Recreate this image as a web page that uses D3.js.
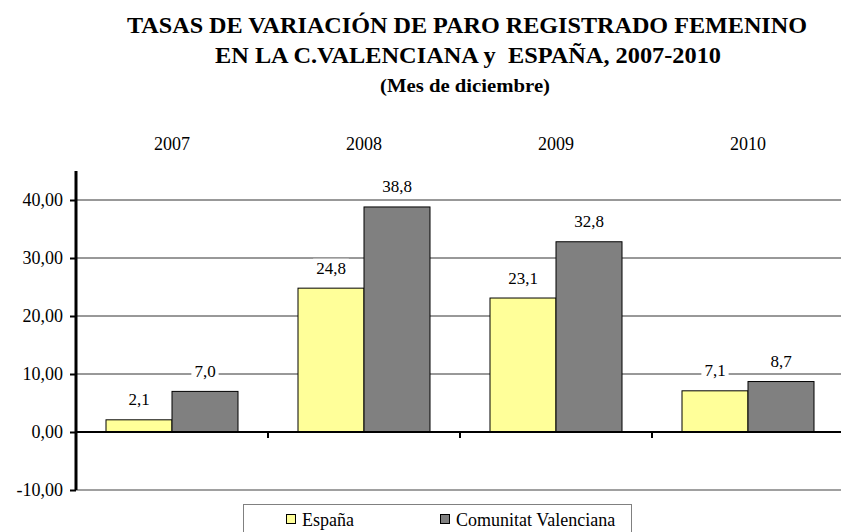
<!DOCTYPE html>
<html>
<head>
<meta charset="utf-8">
<script src="https://cdn.jsdelivr.net/npm/d3@7"></script>
<style>
  body { margin: 0; background: #fff; }
</style>
</head>
<body>
<svg id="chart" width="841" height="532"></svg>
<script>
// data
const years = ["2007", "2008", "2009", "2010"];
const espana = [2.1, 24.8, 23.1, 7.1];
const valencia = [7.0, 38.8, 32.8, 8.7];
const seriesNames = ["España", "Comunitat Valenciana"];
const seriesColors = ["#FFFF99", "#808080"];
const yTicks = [-10, 0, 10, 20, 30, 40];

const FONT = "'Liberation Serif', 'Times New Roman', serif";
const svg = d3.select("#chart");
const fmt = v => v.toFixed(1).replace(".", ",");
const fmtTick = v => v.toFixed(2).replace(".", ",");

// titles (condensed bold serif like the original)
const titles = [
  { t: "TASAS DE VARIACIÓN DE PARO REGISTRADO FEMENINO", x: 467, y: 33, size: 24, w: 680 },
  { t: "EN LA C.VALENCIANA y  ESPAÑA, 2007-2010", x: 468, y: 63, size: 24, w: 506 },
  { t: "(Mes de diciembre)", x: 465, y: 92, size: 19, w: 170 }
];
svg.selectAll("text.title").data(titles).enter().append("text")
  .attr("class", "title")
  .attr("x", d => d.x).attr("y", d => d.y)
  .attr("text-anchor", "middle")
  .attr("font-weight", "bold")
  .attr("font-size", d => d.size)
  .attr("textLength", d => d.w)
  .attr("lengthAdjust", "spacingAndGlyphs")
  .style("font-family", FONT)
  .style("white-space", "pre")
  .text(d => d.t);

// scales
const x = d3.scaleBand().domain(years).range([76, 844]);
const xs = d3.scaleBand().domain(seriesNames).range([30, x.bandwidth() - 30]);
const y = d3.scaleLinear().domain([-10, 45]).range([490, 171]);

// gridlines
svg.append("g").selectAll("line").data(yTicks.filter(d => d > 0)).enter().append("line")
  .attr("x1", 76).attr("x2", 841)
  .attr("y1", d => y(d)).attr("y2", d => y(d))
  .attr("stroke", "#333").attr("stroke-width", 1);
svg.append("line")
  .attr("x1", 76).attr("x2", 841)
  .attr("y1", y(-10)).attr("y2", y(-10))
  .attr("stroke", "#808080").attr("stroke-width", 1.5);

// category labels on top
svg.append("g").selectAll("text").data(years).enter().append("text")
  .attr("x", d => x(d) + x.bandwidth() / 2)
  .attr("y", 150)
  .attr("text-anchor", "middle")
  .attr("font-size", 18)
  .style("font-family", FONT)
  .text(d => d);

// bars
const groups = svg.append("g").selectAll("g").data(years).enter().append("g")
  .attr("transform", d => "translate(" + x(d) + ",0)");

groups.each(function(yr, i) {
  const vals = [espana[i], valencia[i]];
  d3.select(this).selectAll("rect").data(vals).enter().append("rect")
    .attr("x", (d, j) => xs(seriesNames[j]))
    .attr("width", xs.bandwidth())
    .attr("y", d => y(d))
    .attr("height", d => y(0) - y(d))
    .attr("fill", (d, j) => seriesColors[j])
    .attr("stroke", "#000").attr("stroke-width", 1);
});

// zero line
svg.append("line")
  .attr("x1", 76).attr("x2", 841)
  .attr("y1", y(0)).attr("y2", y(0))
  .attr("stroke", "#000").attr("stroke-width", 2);

// category ticks
svg.append("g").selectAll("line").data(years.slice(1)).enter().append("line")
  .attr("x1", d => x(d)).attr("x2", d => x(d))
  .attr("y1", y(0)).attr("y2", y(0) + 6)
  .attr("stroke", "#000").attr("stroke-width", 2);

// value labels, white box behind so gridlines break around them
groups.each(function(yr, i) {
  const vals = [espana[i], valencia[i]];
  const g = d3.select(this);
  vals.forEach((v, j) => {
    const cx = xs(seriesNames[j]) + xs.bandwidth() / 2;
    const ty = y(v) - 14.5;
    const t = g.append("text")
      .attr("x", cx).attr("y", ty)
      .attr("text-anchor", "middle")
      .attr("font-size", 17)
      .style("font-family", FONT)
      .text(fmt(v));
    const bb = t.node().getBBox();
    g.insert("rect", "text")
      .attr("x", bb.x - 3).attr("y", bb.y)
      .attr("width", bb.width + 6).attr("height", bb.height)
      .attr("fill", "#fff");
  });
});

// y axis
const yAxis = d3.axisLeft(y).tickValues(yTicks).tickFormat(fmtTick).tickSize(6).tickPadding(7);
const ya = svg.append("g").attr("transform", "translate(76,0)").call(yAxis);
ya.select(".domain").attr("stroke", "#000").attr("stroke-width", 3).attr("d", "M0," + y(45) + "V" + y(-10));
ya.selectAll(".tick line").attr("stroke", "#000").attr("stroke-width", 2);
ya.selectAll(".tick text").attr("font-size", 18).style("font-family", FONT).attr("fill", "#000");

// legend
const lg = svg.append("g");
lg.append("rect")
  .attr("x", 243.5).attr("y", 504.5).attr("width", 388).attr("height", 40)
  .attr("fill", "#fff").attr("stroke", "#808080").attr("stroke-width", 1);
const legendX = [286, 440];
seriesNames.forEach((name, j) => {
  lg.append("rect")
    .attr("x", legendX[j] + 0.5).attr("y", 514.5).attr("width", 9).attr("height", 9)
    .attr("fill", seriesColors[j]).attr("stroke", "#000");
  lg.append("text")
    .attr("x", legendX[j] + 16).attr("y", 526)
    .attr("font-size", 18)
    .style("font-family", FONT)
    .text(name);
});
</script>
</body>
</html>
